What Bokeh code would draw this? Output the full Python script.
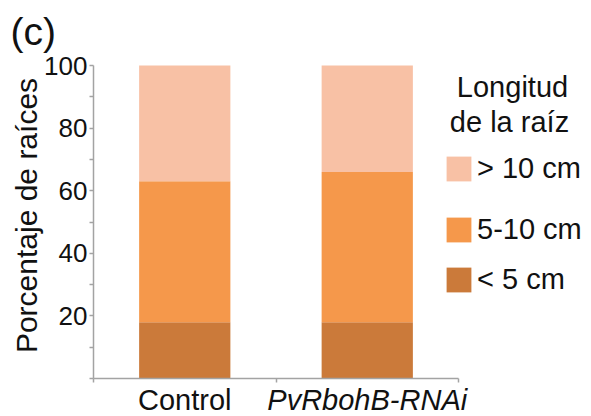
import math

from bokeh.embed import file_html
from bokeh.models import (ColumnDataSource, FixedTicker, Label, Legend,
                          LegendItem, Range1d)
from bokeh.plotting import figure
from bokeh.resources import INLINE

# Root-length distribution (% of roots) per line
categories = ["Control", "PvRbohB-RNAi"]
under_5 = [18, 18]
from_5_to_10 = [45, 48]
over_10 = [37, 34]

stack_keys = ["under_5", "from_5_to_10", "over_10"]
stack_names = ["< 5 cm", "5-10 cm", "> 10 cm"]
stack_colors = ["#CB7A3A", "#F5984B", "#F8C1A5"]

y_ticks = [0, 20, 40, 60, 80, 100]
y_minor = [10, 30, 50, 70, 90]

FONT = "Liberation Sans"
AXIS_GREY = "#A3A3A3"
INK = "#111111"

W, H = 591, 416
# plotting area inside the canvas (pixels): left, right, top, bottom
AX_L, AX_R, AX_T, AX_B = 93, 458, 65, 378
# labels sit this fraction of their font size above the requested baseline
LIFT = 0.38

n = len(categories)
px_per_x = (AX_R - AX_L) / n
px_per_y = (AX_B - AX_T) / 100.0
x_range = Range1d(-AX_L / px_per_x, n + (W - AX_R) / px_per_x)
y_range = Range1d(-(H - AX_B) / px_per_y, 100 + AX_T / px_per_y)

# one slot per category, bars centred in each slot
x_pos = [i + 0.5 for i in range(n)]
source = ColumnDataSource(dict(x=x_pos, under_5=under_5,
                               from_5_to_10=from_5_to_10, over_10=over_10))

p = figure(width=W, height=H, output_backend="svg", toolbar_location=None,
           x_range=x_range, y_range=y_range,
           min_border=0, min_border_left=0, min_border_right=0,
           min_border_top=0, min_border_bottom=0)
p.outline_line_color = None
p.xgrid.visible = False
p.ygrid.visible = False
p.background_fill_color = "white"
p.border_fill_color = "white"

renderers = p.vbar_stack(stack_keys, x="x", width=0.5, source=source,
                         color=stack_colors, line_color=None)

# y axis, pinned at x = 0
ya = p.yaxis[0]
ya.fixed_location = 0
ya.bounds = (0, 100)
ya.ticker = FixedTicker(ticks=y_ticks, minor_ticks=y_minor)
ya.major_label_overrides = {0: ""}
ya.axis_line_color = AXIS_GREY
ya.axis_line_width = 1.5
ya.major_tick_line_color = AXIS_GREY
ya.minor_tick_line_color = AXIS_GREY
ya.major_tick_line_width = 1.5
ya.minor_tick_line_width = 1.5
ya.major_tick_out = 4
ya.major_tick_in = 0
ya.minor_tick_out = 4
ya.minor_tick_in = 0
ya.major_label_standoff = 2
ya.major_label_text_font = FONT
ya.major_label_text_font_size = "26px"
ya.major_label_text_color = INK

# x axis, pinned at y = 0: ticks at the slot boundaries
xa = p.xaxis[0]
xa.fixed_location = 0
xa.bounds = (0, n)
xa.ticker = FixedTicker(ticks=x_pos, minor_ticks=list(range(n + 1)))
xa.major_label_overrides = {v: "" for v in x_pos}
xa.major_label_text_font_size = "1px"
xa.axis_line_color = AXIS_GREY
xa.axis_line_width = 1.5
xa.major_tick_out = 0
xa.major_tick_in = 0
xa.minor_tick_line_color = AXIS_GREY
xa.minor_tick_line_width = 1.5
xa.minor_tick_out = 4
xa.minor_tick_in = 0


def text_label(text, px, py, size, **kw):
    """Place text with its baseline at canvas pixel (px, py), measured from top-left."""
    return Label(x=px, y=H - py + LIFT * size, x_units="screen", y_units="screen",
                 text=text, text_baseline="alphabetic", text_font=FONT,
                 text_font_size=f"{size}px", text_color=INK, **kw)


# category names under each bar
for xc, name, style in zip(x_pos, categories, ["normal", "italic"]):
    lbl = text_label(name, 0, 411, 29, text_align="center", text_font_style=style)
    lbl.x_units = "data"
    lbl.x = xc
    p.add_layout(lbl)

# y axis title (rotated: baseline lies on its right-hand side)
ytitle_size = 30
p.add_layout(Label(x=37 - LIFT * ytitle_size, y=H - 215, x_units="screen", y_units="screen",
                   text="Porcentaje de raíces", angle=math.pi / 2,
                   text_align="center", text_baseline="alphabetic",
                   text_font=FONT, text_font_size=f"{ytitle_size}px", text_color=INK))

# panel tag
p.add_layout(text_label("(c)", 10, 46, 39))

# legend title
p.add_layout(text_label("Longitud", 512, 98, 29, text_align="center"))
p.add_layout(text_label("de la raíz", 509, 133, 29, text_align="center"))

# legend entries, top to bottom: > 10, 5-10, < 5 (bottom edge of each row)
legend_rows = [(2, 185), (1, 245.5), (0, 295.5)]
for idx, ybot in legend_rows:
    lg = Legend(items=[LegendItem(label=stack_names[idx], renderers=[renderers[idx]])],
                location=(443, H - ybot), orientation="vertical",
                glyph_width=31, glyph_height=31, label_height=25,
                label_standoff=3, padding=0, margin=0, spacing=0,
                border_line_color=None, background_fill_alpha=0,
                label_text_font=FONT, label_text_font_size="29px",
                label_text_color=INK)
    p.add_layout(lg)

open("out.html", "w").write(file_html(p, INLINE))
